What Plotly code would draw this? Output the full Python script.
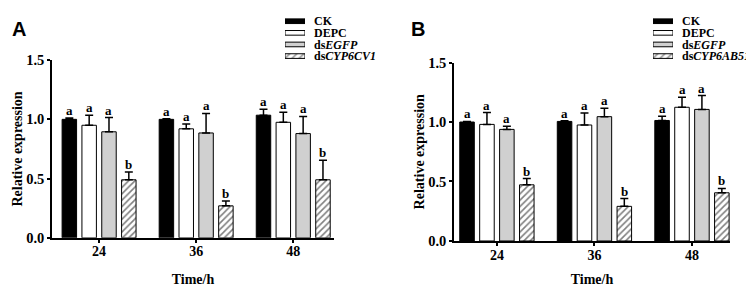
import plotly.graph_objects as go

times = ["24", "36", "48"]
series_a = ["CK", "DEPC", "ds<i>EGFP</i>", "ds<i>CYP6CV1</i>"]
series_b = ["CK", "DEPC", "ds<i>EGFP</i>", "ds<i>CYP6AB51</i>"]

# Panel A values (mean) and upper error
a_ck = [1.00, 1.00, 1.035]
a_ck_err = [0.012, 0.005, 0.05]
a_depc = [0.95, 0.92, 0.975]
a_depc_err = [0.085, 0.04, 0.085]
a_egfp = [0.895, 0.885, 0.88]
a_egfp_err = [0.12, 0.165, 0.145]
a_cyp = [0.49, 0.27, 0.49]
a_cyp_err = [0.065, 0.04, 0.165]
a_letters = [["a", "a", "a"], ["a", "a", "a"], ["a", "a", "a"], ["b", "b", "b"]]

# Panel B values
b_ck = [1.00, 1.005, 1.013]
b_ck_err = [0.005, 0.005, 0.035]
b_depc = [0.98, 0.975, 1.124]
b_depc_err = [0.10, 0.10, 0.085]
b_egfp = [0.938, 1.045, 1.106]
b_egfp_err = [0.027, 0.07, 0.116]
b_cyp = [0.472, 0.291, 0.405]
b_cyp_err = [0.053, 0.066, 0.037]
b_letters = [["a", "a", "a"], ["a", "a", "a"], ["a", "a", "a"], ["b", "b", "b"]]

fills = ["black", "white", "#d0d0d0", "white"]
patterns = ["", "", "", "/"]

SERIF = "Liberation Serif"
fig = go.Figure()

slot = 0.204  # category units per bar slot
offsets = [-1.5 * slot, -0.5 * slot, 0.5 * slot, 1.5 * slot]
xs = [0, 1, 2]


def add_panel(names, vals, errs, letters, xa, ya, lxa, lya):
    for i, (nm, v, e) in enumerate(zip(names, vals, errs)):
        fig.add_trace(go.Bar(
            x=xs, y=v, name=nm, xaxis=xa, yaxis=ya, showlegend=False,
            marker=dict(color=fills[i], line=dict(color="black", width=1),
                        pattern=dict(shape=patterns[i], fgcolor="black", bgcolor="white",
                                     size=4.5, solidity=0.35)),
            error_y=dict(type="data", symmetric=False, array=e, arrayminus=[0] * 3,
                         color="black", thickness=1.5, width=4),
        ))
        for j in range(3):
            fig.add_annotation(x=xs[j] + offsets[i], y=v[j] + e[j], text="<b>%s</b>" % letters[i][j],
                               xref=xa, yref=ya, showarrow=False, yanchor="bottom",
                               yshift=-2, font=dict(family=SERIF, size=13, color="black"))
    # compact legend drawn as a tiny horizontal bar chart
    fig.add_trace(go.Bar(
        x=[1] * len(names), y=list(range(len(names))), orientation="h", width=0.4,
        xaxis=lxa, yaxis=lya, showlegend=False, hoverinfo="skip",
        marker=dict(color=fills, line=dict(color="black", width=1),
                    pattern=dict(shape=patterns, fgcolor="black", bgcolor="white",
                                 size=5, solidity=0.35)),
    ))


add_panel(series_a, [a_ck, a_depc, a_egfp, a_cyp], [a_ck_err, a_depc_err, a_egfp_err, a_cyp_err],
          a_letters, "x", "y", "x3", "y3")
add_panel(series_b, [b_ck, b_depc, b_egfp, b_cyp], [b_ck_err, b_depc_err, b_egfp_err, b_cyp_err],
          b_letters, "x2", "y2", "x4", "y4")

axis_common = dict(showline=True, linecolor="black", linewidth=1.5, ticks="outside",
                   tickcolor="black", tickwidth=1.5, showgrid=False, zeroline=False)
title_font = dict(family=SERIF, size=14, color="black")
ytv = [0, 0.5, 1.0, 1.5]
ytt = ["<b>0.0</b>", "<b>0.5</b>", "<b>1.0</b>", "<b>1.5</b>"]
xtt = ["<b>%s</b>" % t for t in times]
xfont = dict(family=SERIF, size=14, color="black")
yfont = dict(family=SERIF, size=14.5, color="black")

leg_x = dict(range=[0, 1], visible=False, fixedrange=True)
leg_y = dict(range=[3.5, -0.45], showline=False, showgrid=False, zeroline=False, ticks="",
             side="right", tickvals=[0, 1, 2, 3], ticklabelstandoff=8,
             tickfont=dict(family=SERIF, size=12, color="black", weight="bold"))
leg_dom = [(286 - 48.6) / 286, 1.0]

fig.update_layout(
    width=754, height=286, margin=dict(l=0, r=0, t=0, b=0),
    plot_bgcolor="rgba(0,0,0,0)", paper_bgcolor="white",
    barmode="group", bargap=0.183, bargroupgap=0.27,
    showlegend=False,
    xaxis=dict(axis_common, domain=[44 / 754, 326 / 754], range=[-0.485, 2.42], ticklen=3,
               tickvals=xs, ticktext=xtt, tickfont=xfont, ticklabelstandoff=-3,
               title=dict(text="<b>Time/h</b>", font=title_font, standoff=16), anchor="y"),
    yaxis=dict(axis_common, domain=[51 / 286, 239.3 / 286], range=[0, 1.5], ticklen=3,
               tickvals=ytv, ticktext=ytt, tickfont=yfont,
               title=dict(text="<b>Relative expression</b>", font=title_font, standoff=0), anchor="x"),
    xaxis2=dict(axis_common, domain=[446 / 754, 722 / 754], range=[-0.44, 2.39], ticklen=3,
                tickvals=xs, ticktext=xtt, tickfont=xfont, ticklabelstandoff=-3,
                title=dict(text="<b>Time/h</b>", font=title_font, standoff=13), anchor="y2"),
    yaxis2=dict(axis_common, domain=[47.7 / 286, 236.7 / 286], range=[0, 1.5], ticklen=3,
                tickvals=ytv, ticktext=ytt, tickfont=yfont,
                title=dict(text="<b>Relative expression</b>", font=title_font, standoff=0), anchor="x2"),
    xaxis3=dict(leg_x, domain=[277 / 754, 297 / 754], anchor="y3"),
    yaxis3=dict(leg_y, domain=leg_dom, ticktext=series_a, anchor="x3"),
    xaxis4=dict(leg_x, domain=[645 / 754, 665 / 754], anchor="y4"),
    yaxis4=dict(leg_y, domain=leg_dom, ticktext=series_b, anchor="x4"),
)

fig.add_annotation(x=2 / 754, y=1.0, xref="paper", yref="paper", text="<b>A</b>", showarrow=False,
                   xanchor="left", yanchor="top", font=dict(family="Liberation Sans", size=20, color="black"))
fig.add_annotation(x=401 / 754, y=1.0, xref="paper", yref="paper", text="<b>B</b>", showarrow=False,
                   xanchor="left", yanchor="top", font=dict(family="Liberation Sans", size=20, color="black"))

fig.write_html("out.html")
